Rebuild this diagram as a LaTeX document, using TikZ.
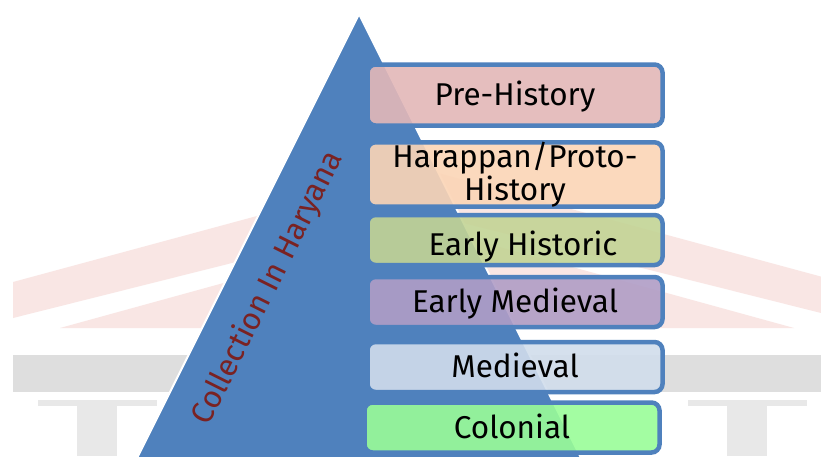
\documentclass[tikz,border=0pt]{standalone}
\usepackage{fontspec}
\setmainfont{Fira Sans}
\usepackage{xcolor}

\definecolor{pyramidblue}{HTML}{4F81BD}
\definecolor{wmred}{HTML}{F9E6E4}
\definecolor{wmgray}{HTML}{DEDEDE}
\definecolor{wmlight}{HTML}{E8E8E8}
\definecolor{maroon}{HTML}{7A2222}
\definecolor{prehist}{HTML}{E3B8B8}
\definecolor{harappan}{HTML}{FBD5B6}
\definecolor{earlyhist}{HTML}{C3D495}
\definecolor{earlymed}{HTML}{B09DC6}
\definecolor{medieval}{HTML}{D1DDEC}
\definecolor{colonial}{HTML}{9AFD98}

\begin{document}
\begin{tikzpicture}[x=1pt, y=-1pt,
    period/.style={draw=pyramidblue, line width=4.5pt, rounded corners=8pt,
      fill opacity=0.9, draw opacity=1, text opacity=1,
      minimum width=295pt, minimum height=50pt, inner sep=0pt,
      font=\fontsize{31.5}{31.5}\selectfont, text height=21.7pt, text depth=0pt}]
      \clip (0, 0) rectangle (821, 456);
      \fill[white] (0, 0) rectangle (821, 456);

      % faded logo in the background
      \fill[wmred] (13, 282) -- (427, 170) -- (841, 282) -- (841, 318) -- (427, 214) -- (13, 318) -- cycle;
      \fill[wmred] (60, 328) -- (427, 227) -- (794, 328) -- cycle;
      \fill[wmgray] (13, 355) rectangle (841, 392);
      \fill[wmlight] (38, 400) rectangle (157, 406);
      \fill[wmlight] (77, 406) rectangle (117, 456);
      \fill[wmlight] (688, 400) rectangle (807, 406);
      \fill[wmlight] (727, 406) rectangle (767, 456);

      \draw[white, line width=2pt, fill=pyramidblue] (359, 14) -- (124, 484) -- (594, 484) -- cycle;

      \node[maroon, rotate=63.43, font=\fontsize{31}{31}\selectfont] (haryana) at (268, 288) {Collection In Haryana};

      \node[period, fill=prehist, minimum height=61pt] (prehistory) at (515, 95) {Pre-History};
      \node[period, fill=harappan, minimum height=62pt, align=center, text height=, text depth=,
        font=\fontsize{31.5}{30}\selectfont] (protohistory) at (515, 174.5) {Harappan/Proto-\\History};
      \node[period, fill=earlyhist, text height=31.7pt] (earlyhistoric) at (515, 240) {\hspace*{16pt}Early Historic};
      \node[period, fill=earlymed] (earlymedieval) at (515, 302) {Early Medieval};
      \node[period, fill=medieval] (medieval) at (515, 367) {Medieval};
      \node[period, fill=colonial] (colonial) at (512, 427.5) {Colonial};

    \end{tikzpicture}
\end{document}
